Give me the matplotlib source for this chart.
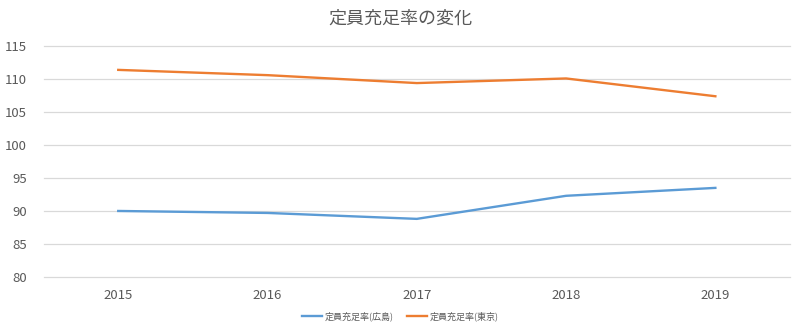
import matplotlib.pyplot as plt

plt.rcParams['font.family'] = ['Noto Sans CJK JP', 'DejaVu Sans']

years = ['2015', '2016', '2017', '2018', '2019']
hiroshima = [90.0, 89.7, 88.8, 92.3, 93.5]
tokyo = [111.4, 110.6, 109.4, 110.1, 107.4]
yticks = [80, 85, 90, 95, 100, 105, 110, 115]

fig = plt.figure(figsize=(8, 3.32), dpi=100)
ax = fig.add_axes([0.0545, 0.166, 0.933, 0.695])

x = range(len(years))
ax.plot(x, hiroshima, color='#5B9BD5', lw=1.7, label='定員充足率(広島)')
ax.plot(x, tokyo, color='#ED7D31', lw=1.7, label='定員充足率(東京)')

ax.set_xlim(-0.5, len(years) - 0.5)
ax.set_ylim(80, 115)
ax.set_yticks(yticks)
ax.set_xticks(list(x))
ax.set_xticklabels(years)
ax.grid(axis='y', color='#D9D9D9', lw=0.9)
for gl in ax.get_ygridlines():
    gl.set_clip_on(False)
ax.set_axisbelow(True)
for s in ax.spines.values():
    s.set_visible(False)
ax.tick_params(length=0, colors='#595959', labelsize=9.5)
ax.tick_params(axis='y', pad=12)
ax.tick_params(axis='x', pad=9)

fig.text(0.5, 0.945, '定員充足率の変化', ha='center', va='center',
         fontsize=13, color='#595959')
fig.legend(loc='center', bbox_to_anchor=(0.5, 0.048), ncol=2, frameon=False,
           fontsize=6.5, labelcolor='#595959', handlelength=2.2,
           handletextpad=0.3, columnspacing=1.5)

fig.savefig('out.png')
